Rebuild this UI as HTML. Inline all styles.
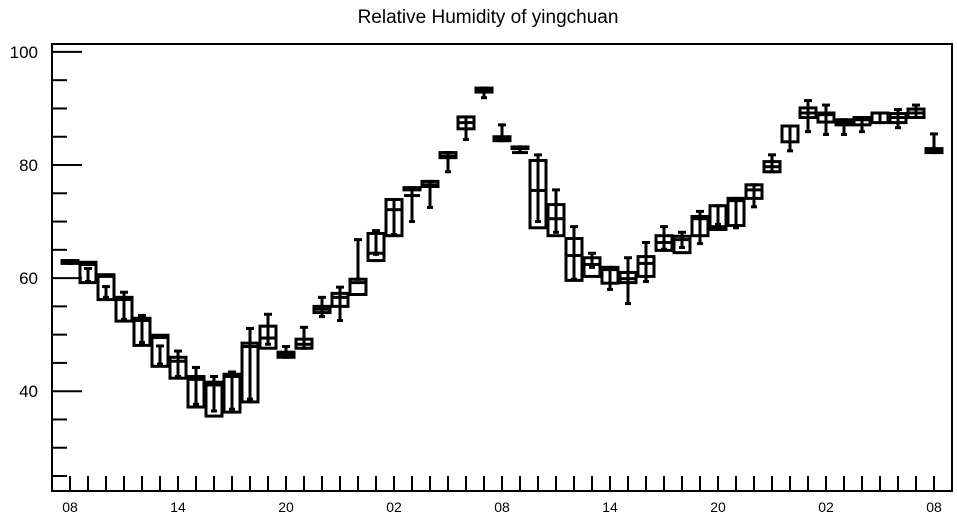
<!DOCTYPE html>
<html><head><meta charset="utf-8"><style>
body{margin:0;background:#fff;}
svg text{font-family:"Liberation Sans",sans-serif;fill:#000;}
</style></head><body>
<svg id="chart" width="957" height="520">
<text x="488" y="23" font-size="19" text-anchor="middle">Relative Humidity of yingchuan</text>
<g id="plot"></g>
</svg>
<script>
const categories = ["08","09","10","11","12","13","14","15","16","17","18","19","20","21","22","23","00","01","02","03","04","05","06","07","08","09","10","11","12","13","14","15","16","17","18","19","20","21","22","23","00","01","02","03","04","05","06","07","08"];
const q3Values = [63.1,62.8,60.6,56.6,52.9,49.9,46.0,42.6,41.6,43.0,48.5,51.5,46.9,49.2,55.0,57.3,59.8,67.9,73.9,76.0,77.1,82.2,88.5,93.6,85.0,83.2,80.8,73.0,67.0,63.6,61.9,61.0,63.8,67.5,67.4,70.9,72.8,74.1,76.5,80.6,86.9,90.1,89.2,88.0,88.4,89.2,89.1,89.9,82.9];
const q1Values = [62.6,59.2,56.2,52.4,48.1,44.4,42.3,37.2,35.6,36.3,38.1,47.6,46.0,47.6,53.9,55.0,57.1,63.1,67.5,75.6,76.2,81.3,86.4,92.9,84.3,82.9,68.9,67.5,59.6,60.3,59.1,59.2,60.3,64.9,64.5,67.5,68.6,69.3,74.1,78.8,84.1,88.4,87.6,87.1,87.1,87.5,87.5,88.4,82.2];
const medianValues = [62.9,62.4,60.3,56.2,52.5,49.5,45.3,42.1,41.1,42.6,47.9,49.4,46.4,48.3,54.5,56.6,59.2,64.4,72.1,74.6,76.5,81.6,87.5,93.3,84.6,82.2,75.5,70.5,64.0,62.4,61.5,59.9,62.6,66.3,66.8,70.5,69.1,73.7,75.6,79.7,86.9,89.2,88.9,87.6,88.0,89.2,88.4,89.2,82.5];
const maxValues = [63.1,61.7,58.5,57.5,53.4,48.0,47.1,44.2,42.6,43.4,51.1,53.6,47.9,51.3,56.6,58.4,66.8,68.4,73.9,76.0,77.1,82.2,88.5,93.6,87.1,83.2,81.8,75.6,69.1,64.4,61.9,63.6,66.3,69.1,68.1,71.8,72.8,74.1,76.5,81.8,86.9,91.4,90.6,88.0,88.4,89.2,89.8,90.6,85.5];
const minValues = [62.6,59.4,56.6,52.7,48.6,44.8,42.6,37.7,36.5,36.8,38.6,48.3,46.0,47.6,53.2,52.5,59.8,64.2,67.7,70.0,72.5,78.8,84.5,91.9,84.3,82.2,70.0,68.1,59.8,61.9,58.0,55.5,59.4,65.1,65.4,66.1,69.5,68.9,72.6,78.8,82.5,85.9,85.4,85.4,85.9,87.5,86.6,88.4,82.2];
const yTickValues = [40,60,80,100];
const xLabelIdx = [0,6,12,18,24,30,36,42,48];

const NS="http://www.w3.org/2000/svg";
const L=52,R=952,T=44,B=491,yMin=22.35,yMax=101.4;
const y=v=>B-(v-yMin)/(yMax-yMin)*(B-T);
const x=i=>70+i*18;
const g=document.getElementById('plot');
function mk(tag,attrs,parent){const e=document.createElementNS(NS,tag);for(const k in attrs)e.setAttribute(k,attrs[k]);(parent||g).appendChild(e);return e;}
const ax=mk('rect',{x:L,y:T,width:R-L,height:B-T,fill:'none',stroke:'#000','stroke-width':2});


for(let v=25;v<=100;v+=5){
  const major=v%20===0;
  const t=mk('line',{x1:L,x2:L+(major?30:15),y1:y(v),y2:y(v),stroke:'#000','stroke-width':2});
  
  
}
yTickValues.forEach(v=>{
  const t=mk('text',{x:L-14,y:y(v)+6,'font-size':17,'text-anchor':'end'});
  t.textContent=v;
  
  
});
categories.forEach((c,i)=>{
  const t=mk('line',{x1:x(i),x2:x(i),y1:B,y2:B-15,stroke:'#000','stroke-width':2});
  
  
});
xLabelIdx.forEach(i=>{
  const t=mk('text',{x:x(i),y:512,'font-size':14,'text-anchor':'middle'});
  t.textContent=categories[i];
  
  
});
categories.forEach((c,i)=>{
  const grp=mk('g',{});
  
  
  const cx=x(i),w=8,st={stroke:'#000','stroke-width':3,fill:'none'};
  const top=y(q3Values[i]),bot=y(q1Values[i]);
  mk('rect',Object.assign({x:cx-w,y:top,width:2*w,height:Math.max(bot-top,1.5)},st),grp);
  mk('line',Object.assign({x1:cx-w,x2:cx+w,y1:y(medianValues[i]),y2:y(medianValues[i])},st),grp);
  mk('line',Object.assign({x1:cx,x2:cx,y1:y(maxValues[i]),y2:y(minValues[i])},st),grp);
  mk('line',Object.assign({x1:cx-4,x2:cx+4,y1:y(maxValues[i]),y2:y(maxValues[i])},st),grp);
  mk('line',Object.assign({x1:cx-3,x2:cx+3,y1:y(minValues[i]),y2:y(minValues[i])},st),grp);
});
</script>
</body></html>
